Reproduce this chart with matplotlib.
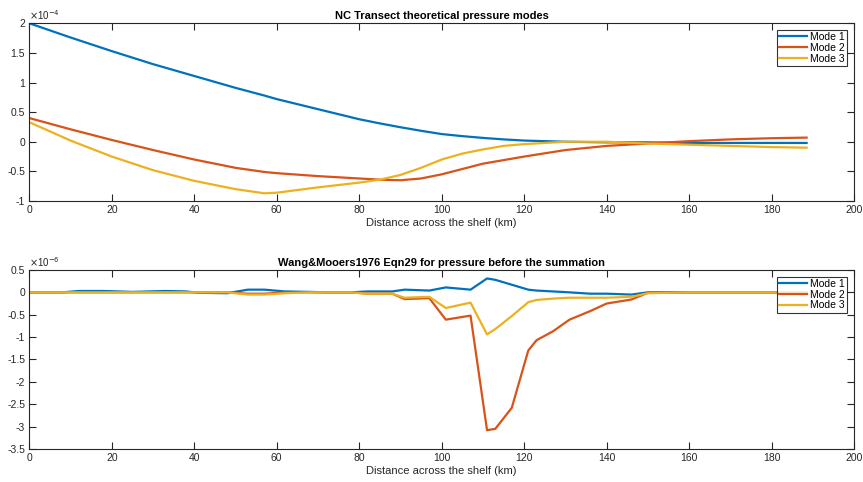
import matplotlib.pyplot as plt
from matplotlib.ticker import MultipleLocator

plt.rcParams['font.family'] = ['Liberation Sans', 'DejaVu Sans']
plt.rcParams['axes.unicode_minus'] = False

# top panel: theoretical pressure modes, values in units of 1e-4
x_top = [0, 10, 20, 30, 40, 50, 57, 60, 70, 80, 85, 90, 95, 100, 105, 110, 115, 120,
         130, 140, 150, 160, 170, 180, 188.5]
mode1_top = [2.0, 1.76, 1.53, 1.31, 1.11, 0.91, 0.78, 0.72, 0.55, 0.38, 0.31, 0.245, 0.185, 0.13,
             0.095, 0.065, 0.04, 0.02, 0.0, -0.01, -0.01, -0.02, -0.02, -0.02, -0.02]
mode2_top = [0.40, 0.21, 0.03, -0.14, -0.30, -0.44, -0.51, -0.53, -0.58, -0.62, -0.64, -0.65,
             -0.62, -0.55, -0.46, -0.37, -0.31, -0.25, -0.14, -0.07, -0.03, 0.01, 0.04, 0.06, 0.07]
mode3_top = [0.33, 0.02, -0.25, -0.48, -0.66, -0.80, -0.87, -0.86, -0.77, -0.69, -0.64, -0.56,
             -0.44, -0.30, -0.20, -0.13, -0.07, -0.04, 0.0, 0.0, -0.03, -0.05, -0.07, -0.09, -0.10]

# bottom panel: Eqn29 terms before summation, values in units of 1e-6
x_bot = [0, 8, 12, 18, 25, 33, 38, 41, 48, 53, 57, 62, 68, 72, 78, 82, 88, 91, 97, 101, 107,
         111, 113, 117, 121, 123, 127, 131, 136, 140, 146, 150, 160, 170, 180, 188.5]
mode1_bot = [0.0, 0.0, 0.03, 0.03, 0.01, 0.03, 0.02, -0.01, -0.02, 0.06, 0.06, 0.02, 0.01, 0.0,
             0.0, 0.02, 0.02, 0.06, 0.04, 0.11, 0.06, 0.31, 0.28, 0.17, 0.06, 0.04, 0.02, 0.0,
             -0.03, -0.03, -0.05, 0.0, 0.0, 0.0, 0.0, 0.0]
mode2_bot = [0.0, 0.0, 0.0, 0.0, 0.0, 0.0, 0.0, 0.0, 0.0, -0.03, -0.03, 0.0, 0.0, 0.0, 0.0,
             -0.03, -0.03, -0.15, -0.13, -0.61, -0.52, -3.08, -3.05, -2.58, -1.30, -1.07,
             -0.87, -0.61, -0.42, -0.25, -0.16, -0.01, 0.0, 0.0, 0.0, 0.0]
mode3_bot = [0.0, 0.0, 0.0, 0.0, 0.0, 0.0, 0.0, 0.0, 0.0, -0.05, -0.05, -0.02, 0.0, 0.0, 0.0,
             -0.03, -0.03, -0.12, -0.10, -0.35, -0.23, -0.94, -0.82, -0.53, -0.22, -0.17,
             -0.14, -0.12, -0.12, -0.12, -0.10, -0.02, 0.0, 0.0, 0.0, 0.0]

labels = ['Mode 1', 'Mode 2', 'Mode 3']
colors = ['#0072BD', '#D95319', '#EDB120']
axis_col = '#262626'

fig = plt.figure(figsize=(8.63, 4.82), dpi=100)
ax1 = fig.add_axes([0.034, 0.583, 0.9556, 0.3687])
ax2 = fig.add_axes([0.034, 0.0685, 0.9556, 0.3714])


def style(ax, ylo, yhi, exp, title):
    ax.set_xlim(0, 200)
    ax.set_ylim(ylo, yhi)
    ax.xaxis.set_major_locator(MultipleLocator(20))
    ax.yaxis.set_major_locator(MultipleLocator(0.5))
    ax.yaxis.set_major_formatter(plt.FuncFormatter(lambda v, p: ('%g' % round(v, 2))))
    ax.tick_params(direction='in', top=True, right=True, length=5, width=0.8,
                   labelsize=7.5, colors=axis_col, pad=3)
    for s in ax.spines.values():
        s.set_color(axis_col)
        s.set_linewidth(0.8)
    ax.set_xlabel('Distance across the shelf (km)', fontsize=8, color=axis_col, labelpad=2)
    ax.set_title(title, fontsize=8, fontweight='bold', color='black', pad=3)
    ax.text(0.0, 1.005, r'$\times$10$^{%d}$' % exp, transform=ax.transAxes, fontsize=7,
            color=axis_col, ha='left', va='bottom')
    leg = ax.legend(loc='upper right', fontsize=7.5, frameon=True, fancybox=False,
                    edgecolor='black', borderpad=0.2, handlelength=2.7, handletextpad=0.3,
                    labelspacing=0.08, borderaxespad=0.65)
    leg.get_frame().set_linewidth(0.8)


for ys, lab, c in zip([mode1_top, mode2_top, mode3_top], labels, colors):
    ax1.plot(x_top, ys, color=c, lw=1.6, label=lab)
for ys, lab, c in zip([mode1_bot, mode2_bot, mode3_bot], labels, colors):
    ax2.plot(x_bot, ys, color=c, lw=1.6, label=lab)

style(ax1, -1, 2, -4, 'NC Transect theoretical pressure modes')
style(ax2, -3.5, 0.5, -6, 'Wang&Mooers1976 Eqn29 for pressure before the summation')

fig.savefig('out.png', dpi=100)
